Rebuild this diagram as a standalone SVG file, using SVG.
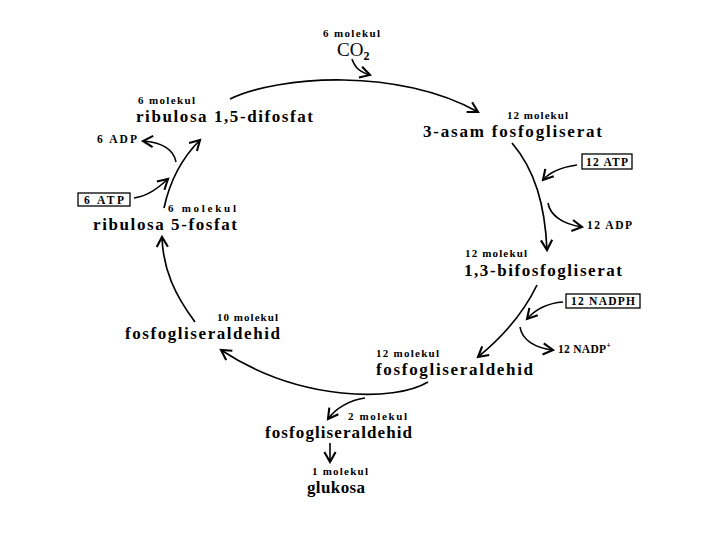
<svg xmlns="http://www.w3.org/2000/svg" width="720" height="540" viewBox="0 0 720 540">
<defs>
<marker id="ah" markerUnits="userSpaceOnUse" markerWidth="14" markerHeight="14" viewBox="-10 -6 12 12" refX="0" refY="0" orient="auto">
<path d="M-8.5,-4.8 L0,0 L-8.5,4.8" fill="none" stroke="#000" stroke-width="1.8"/>
</marker>
<style>
.c{fill:none;stroke:#000;stroke-width:1.7;marker-end:url(#ah)}
.s{fill:none;stroke:#000;stroke-width:1.6;marker-end:url(#ah)}
.m{font-family:"Liberation Serif",serif;font-weight:bold;font-size:11px;fill:#000}
.b{font-family:"Liberation Serif",serif;font-weight:bold;font-size:17px;fill:#000}
.r{font-family:"Liberation Serif",serif;font-weight:bold;font-size:11.5px;fill:#000}
.box{fill:#fff;stroke:#000;stroke-width:1.3}
</style>
</defs>
<rect width="720" height="540" fill="#fff"/>
<g id="connectors">
<path class="c" d="M230,99 C280,75 400,68 478,112"/>
<path class="c" d="M512,143 C535,170 545,205 547,250"/>
<path class="c" d="M537,285 C525,310 505,335 478,357"/>
<path class="c" d="M428,382 C395,402 300,402 221,350"/>
<path class="c" d="M195,322 C175,295 163,270 162,237"/>
<path class="c" d="M164,208 C170,180 182,158 200,140"/>
<path class="s" d="M352,59 C355,68 360,72 370,75"/>
<path class="s" d="M176,162 C174,150 162,142 143,141"/>
<path class="s" d="M134,198 C148,196 158,188 168,179"/>
<path class="s" d="M577,165 C562,167 550,172 543,180"/>
<path class="s" d="M548,203 C550,215 562,224 582,227"/>
<path class="s" d="M563,302 C548,303 535,310 527,319"/>
<path class="s" d="M520,327 C522,340 535,348 553,350"/>
<path class="s" d="M365,398 C350,400 336,408 328,419"/>
<path class="s" d="M330,443 L330,462"/>
</g>
<g id="co2">
<text class="m" x="323" y="37" textLength="57" lengthAdjust="spacing">6 molekul</text>
<text x="337" y="56" font-family="Liberation Serif,serif" font-size="19" fill="#000">CO<tspan font-size="12" font-weight="bold" dy="4">2</tspan></text>
</g>
<g id="rubp">
<text class="m" x="138" y="104" textLength="57" lengthAdjust="spacing">6 molekul</text>
<text class="b" x="136" y="122" textLength="177" lengthAdjust="spacing">ribulosa 1,5-difosfat</text>
</g>
<g id="pga">
<text class="m" x="507" y="119" textLength="61" lengthAdjust="spacing">12 molekul</text>
<text class="b" x="423" y="137" textLength="179" lengthAdjust="spacing">3-asam fosfogliserat</text>
</g>
<g id="bpg">
<text class="m" x="465" y="257" textLength="62" lengthAdjust="spacing">12 molekul</text>
<text class="b" x="464" y="276" textLength="158" lengthAdjust="spacing">1,3-bifosfogliserat</text>
</g>
<g id="g3p12">
<text class="m" x="376" y="357" textLength="63" lengthAdjust="spacing">12 molekul</text>
<text class="b" x="376" y="375" textLength="157" lengthAdjust="spacing">fosfogliseraldehid</text>
</g>
<g id="g3p2">
<text class="m" x="348" y="420" textLength="59" lengthAdjust="spacing">2 molekul</text>
<text class="b" x="265" y="438" textLength="147" lengthAdjust="spacing">fosfogliseraldehid</text>
</g>
<g id="glukosa">
<text class="m" x="312" y="475" textLength="56" lengthAdjust="spacing">1 molekul</text>
<text class="b" x="307" y="493" textLength="58" lengthAdjust="spacing">glukosa</text>
</g>
<g id="g3p10">
<text class="m" x="217" y="321" textLength="61" lengthAdjust="spacing">10 molekul</text>
<text class="b" x="125" y="339" textLength="155" lengthAdjust="spacing">fosfogliseraldehid</text>
</g>
<g id="ru5p">
<text class="m" x="168" y="212" textLength="68" lengthAdjust="spacing">6 molekul</text>
<text class="b" x="93" y="230" textLength="144" lengthAdjust="spacing">ribulosa 5-fosfat</text>
</g>
<g id="adp6">
<text class="r" x="97" y="143" textLength="40" lengthAdjust="spacing">6 ADP</text>
</g>
<g id="atp6">
<rect class="box" x="78" y="193" width="52" height="13"/>
<text class="r" x="84" y="204" textLength="40" lengthAdjust="spacing">6 ATP</text>
</g>
<g id="atp12">
<rect class="box" x="582" y="154" width="50" height="15"/>
<text class="r" x="586" y="166" textLength="42" lengthAdjust="spacing">12 ATP</text>
</g>
<g id="adp12">
<text class="r" x="587" y="229" textLength="45" lengthAdjust="spacing">12 ADP</text>
</g>
<g id="nadph">
<rect class="box" x="566" y="294" width="74" height="14"/>
<text class="r" x="571" y="305" textLength="64" lengthAdjust="spacing">12 NADPH</text>
</g>
<g id="nadp">
<text class="r" x="558" y="353"><tspan textLength="48" lengthAdjust="spacing">12 NADP</tspan><tspan font-size="8" dy="-5">+</tspan></text>
</g>
</svg>
